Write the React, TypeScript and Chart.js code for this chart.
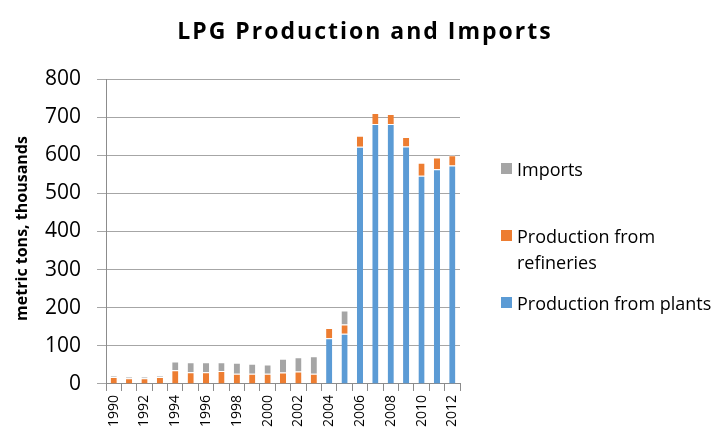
import React, { useEffect, useRef } from "react";
import { Chart, registerables } from "chart.js";

Chart.register(...registerables);

const years = ["1990","1991","1992","1993","1994","1995","1996","1997","1998","1999","2000","2001","2002","2003","2004","2005","2006","2007","2008","2009","2010","2011","2012"];
const plants = [0,0,0,0,0,0,0,0,0,0,0,0,0,0,120,132,622,682,682,623,546,563,573];
const refineries = [18,15,15,18,36,31,31,34,27,27,27,30,33,27,27,24,29,29,26,25,34,31,27];
const imports = [3,4,4,3,23,26,26,23,29,26,24,36,37,46,0,37,0,0,0,0,0,0,0];
const yTicks = [0,100,200,300,400,500,600,700,800];

const FONT = "'Open Sans', 'Noto Sans', sans-serif";
const BLUE = "#5b9bd5";
const ORANGE = "#ed7d31";
const GRAY = "#a5a5a5";
const Y_TITLE = "metric tons, thousands";

const yTitlePlugin = {
  id: "yTitle",
  afterDraw(chart: any) {
    const ctx = chart.ctx;
    const area = chart.chartArea;
    ctx.save();
    ctx.translate(22.5, (area.top + area.bottom) / 2 - 3);
    ctx.rotate(-Math.PI / 2);
    ctx.font = `bold 16px ${FONT}`;
    ctx.fillStyle = "#000";
    ctx.textAlign = "center";
    ctx.textBaseline = "middle";
    ctx.fillText(Y_TITLE, 0, 0);
    ctx.restore();
  },
};

export default function App() {
  const ref = useRef<HTMLCanvasElement | null>(null);
  useEffect(() => {
    if (!ref.current) return;
    const sep = "rgba(255,255,255,0.55)";
    const bw = { top: 1, left: 0, right: 0, bottom: 0 };
    const chart = new Chart(ref.current, {
      type: "bar",
      data: {
        labels: years,
        datasets: [
          { label: "Production from plants", data: plants, backgroundColor: BLUE, borderColor: sep, borderWidth: bw, borderSkipped: "bottom" },
          { label: "Production from refineries", data: refineries, backgroundColor: ORANGE, borderColor: sep, borderWidth: bw, borderSkipped: "bottom" },
          { label: "Imports", data: imports, backgroundColor: GRAY, borderColor: sep, borderWidth: bw, borderSkipped: "bottom" },
        ],
      },
      options: {
        animation: false,
        responsive: false,
        layout: { padding: { left: 29, right: 260, top: 79, bottom: 2 } },
        datasets: { bar: { barPercentage: 0.4, categoryPercentage: 1 } },
        plugins: {
          legend: { display: false },
          tooltip: { enabled: false },
          title: { display: false },
        },
        scales: {
          x: {
            stacked: true,
            grid: { offset: true, drawOnChartArea: false, tickLength: 7, color: "#8c8c8c" },
            border: { color: "#8c8c8c" },
            ticks: {
              autoSkip: false,
              maxRotation: 90,
              minRotation: 90,
              color: "#000",
              font: { family: FONT, size: 14 },
              padding: 4,
              callback: (_v: any, i: number) => (i % 2 === 0 ? years[i] : ""),
            },
          },
          y: {
            stacked: true,
            min: 0,
            max: 800,
            afterBuildTicks: (axis: any) => {
              axis.ticks = yTicks.map((v) => ({ value: v }));
            },
            grid: { color: "#a6a6a6", tickLength: 9 },
            border: { color: "#8c8c8c" },
            ticks: {
              color: "#000",
              font: { family: FONT, size: 21 },
              padding: 16,
            },
          },
        },
      },
      plugins: [yTitlePlugin],
    });
    return () => chart.destroy();
  }, []);

  const legendItem = (color: string, lines: string[], top: number) => (
    <div style={{ position: "absolute", left: 501, top, display: "flex", alignItems: "flex-start" }}>
      <div style={{ width: 11, height: 11, background: color, marginTop: 7, marginRight: 5 }} />
      <div style={{ fontFamily: FONT, fontSize: 18, lineHeight: "26px", color: "#000", whiteSpace: "nowrap" }}>
        {lines.map((l, i) => (
          <div key={i}>{l}</div>
        ))}
      </div>
    </div>
  );

  return (
    <div style={{ position: "fixed", left: 0, top: 0, width: 720, height: 433, background: "#fff", overflow: "hidden" }}>
      <canvas ref={ref} width={720} height={433} style={{ display: "block" }} />
      <div
        style={{
          position: "absolute",
          left: 0,
          width: 730,
          top: 15,
          textAlign: "center",
          fontFamily: FONT,
          fontWeight: "bold",
          fontSize: 23,
          lineHeight: "30px",
          letterSpacing: 2,
          color: "#000",
        }}
      >
        LPG Production and Imports
      </div>
      {legendItem(GRAY, ["Imports"], 156)}
      {legendItem(ORANGE, ["Production from", "refineries"], 223)}
      {legendItem(BLUE, ["Production from plants"], 290)}
    </div>
  );
}
